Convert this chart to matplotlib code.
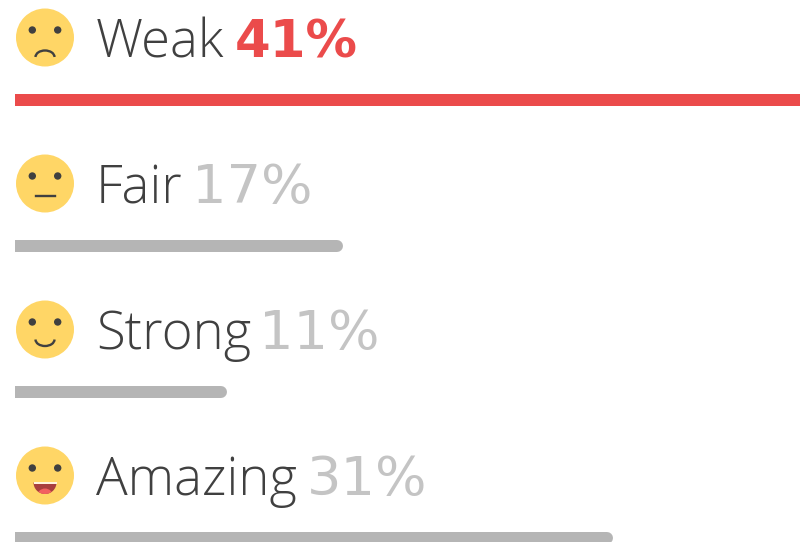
import matplotlib
matplotlib.use('Agg')
import matplotlib.pyplot as plt
from matplotlib.patches import Circle, Wedge, Arc, Rectangle

# --- dados ---
labels = ['Weak', 'Fair', 'Strong', 'Amazing']
valores = [41, 17, 11, 31]
rotulos_pct = ['41%', '17%', '11%', '31%']
faces = ['sad', 'neutral', 'smile', 'happy']

VERMELHO = '#EB4B4B'
CINZA_BARRA = '#B5B5B5'
CINZA_PCT = '#C4C4C4'
ESCURO = '#404040'
AMARELO = '#FFD666'

DPI = 100
px_por_pct = 19.3
px_por_linha = 146

fig = plt.figure(figsize=(8, 5.42), dpi=DPI)

# eixo dos dados: x em %, y em linhas
ax = fig.add_axes([0, 0, 1, 1])
ax.set_xlim(-15 / px_por_pct, 785 / px_por_pct)
ax.set_ylim(442 / px_por_linha, -100 / px_por_linha)
ax.axis('off')

# eixo em pixels para carinhas e textos
ov = fig.add_axes([0, 0, 1, 1])
ov.set_xlim(0, 800)
ov.set_ylim(542, 0)
ov.set_aspect('equal')
ov.axis('off')
ov.patch.set_alpha(0)

raio = 6 / px_por_pct
altura = 12 / px_por_linha
lw_barra = 12 * 72 / DPI


def carinha(cx, cy, tipo):
    ov.add_patch(Circle((cx, cy), 29, color=AMARELO, lw=0))
    for dx in (-12.7, 12.7):
        ov.add_patch(Circle((cx + dx, cy - 7.5), 3.7, color=ESCURO, lw=0))
    if tipo == 'sad':
        ov.add_patch(Arc((cx, cy + 19.5), 19, 13, theta1=180, theta2=360, color=ESCURO, lw=1.7))
    elif tipo == 'neutral':
        ov.plot([cx - 9.5, cx + 9.5], [cy + 12.5, cy + 12.5], color=ESCURO, lw=1.7)
    elif tipo == 'smile':
        ov.add_patch(Arc((cx, cy + 10), 19, 13, theta1=0, theta2=180, color=ESCURO, lw=1.7))
    else:
        boca = Wedge((cx, cy + 7), 11.5, 0, 180, color='#A83E3E', lw=0)
        ov.add_patch(boca)
        lingua = Circle((cx, cy + 21), 8, color='#F26060', lw=0)
        ov.add_patch(lingua)
        lingua.set_clip_path(boca)
        ov.add_patch(Rectangle((cx - 11.5, cy + 6), 23, 2.5, color='#FFF3DC', lw=0))


x_pct = [235, 192, 259, 307]

for i in range(len(labels)):
    destaque = i == 0
    cor_barra = VERMELHO if destaque else CINZA_BARRA
    ax.barh(i, valores[i] - raio, height=altura, left=0, color=cor_barra, lw=0)
    ax.plot([raio, valores[i] - raio], [i, i], color=cor_barra, lw=lw_barra, solid_capstyle='round')

    topo = i * px_por_linha
    carinha(45, 37.5 + topo, faces[i])
    ov.text(96, 57 + topo, labels[i], color=ESCURO, fontsize=38, family='Open Sans',
            weight='light', ha='left', va='baseline')
    ov.text(x_pct[i], 57 + topo, rotulos_pct[i], color=VERMELHO if destaque else CINZA_PCT,
            fontsize=37 if destaque else 39, family='DejaVu Sans', weight='bold' if destaque else 'normal',
            ha='left', va='baseline')

fig.savefig('out.png', dpi=DPI)
